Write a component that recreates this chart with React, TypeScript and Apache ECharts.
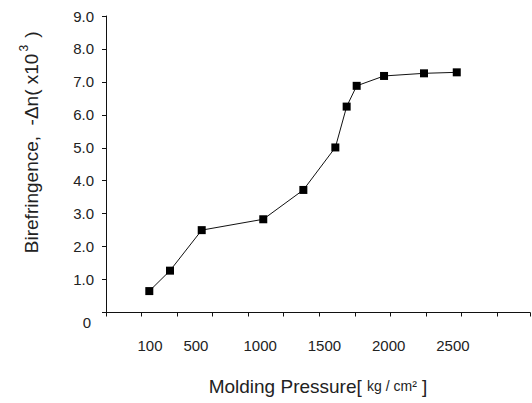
import React, { useEffect, useRef } from 'react';
import * as echarts from 'echarts';

// Molding pressure [kg/cm²] (as plotted) and birefringence -Δn (x10^3)
const pressure = [137, 298, 545, 1024, 1336, 1585, 1673, 1751, 1964, 2275, 2530];
const birefringence = [0.65, 1.27, 2.5, 2.83, 3.72, 5.01, 6.25, 6.88, 7.18, 7.26, 7.29];
const xTickLabels = [100, 500, 1000, 1500, 2000, 2500];
const yTickLabels = ['0', '1.0', '2.0', '3.0', '4.0', '5.0', '6.0', '7.0', '8.0', '9.0'];

const FONT = '"Liberation Sans", Arial, Helvetica, sans-serif';
const TEXT = '#222';

export default function App() {
  const ref = useRef<HTMLDivElement>(null);
  useEffect(() => {
    if (!ref.current) return;
    const chart = echarts.init(ref.current, null, { renderer: 'svg' });
    chart.setOption({
      animation: false,
      backgroundColor: '#fff',
      grid: { left: 106, right: 2, top: 16, bottom: 90.5, containLabel: false },
      xAxis: [
        {
          type: 'value',
          min: -200,
          max: 3100,
          interval: 50,
          position: 'bottom',
          axisLine: { show: false, onZero: false },
          axisTick: { show: false },
          splitLine: { show: false },
          axisLabel: {
            margin: 25,
            fontSize: 15,
            fontFamily: FONT,
            color: TEXT,
            showMinLabel: false,
            showMaxLabel: false,
            formatter: (v: number) => {
              if (!xTickLabels.includes(v)) return '';
              if (v === 100) return '{s|100}';
              return String(v);
            },
            rich: {
              s: { fontSize: 15, fontFamily: FONT, color: TEXT, padding: [0, 0, 0, 11] },
            },
          },
          name: '{a|Molding Pressure[ }{b|kg / cm²}{a| ]}',
          nameLocation: 'middle',
          nameGap: 64,
          nameTextStyle: {
            rich: {
              a: { fontSize: 19, fontFamily: FONT, color: TEXT },
              b: { fontSize: 14, fontFamily: FONT, color: TEXT },
            },
          },
        },
        {
          type: 'value',
          min: 0,
          max: 11.93,
          interval: 1,
          position: 'bottom',
          axisLine: { show: true, onZero: false, lineStyle: { color: '#111', width: 1 } },
          axisTick: { show: true, length: 4, lineStyle: { color: '#111', width: 1 } },
          axisLabel: { show: false },
          splitLine: { show: false },
        },
      ],
      yAxis: {
        type: 'value',
        min: 0,
        max: 9,
        interval: 1,
        axisLine: { show: true, onZero: false, lineStyle: { color: '#111', width: 1 } },
        axisTick: { show: true, length: 4, lineStyle: { color: '#111', width: 1 } },
        splitLine: { show: false },
        axisLabel: {
          margin: 12,
          fontSize: 15,
          fontFamily: FONT,
          color: TEXT,
          formatter: (v: number) => {
            const t = yTickLabels[Math.round(v)] ?? '';
            return v === 0 ? '{z|' + t + '}' : t;
          },
          rich: {
            z: { fontSize: 15, fontFamily: FONT, color: TEXT, padding: [19, 3, 0, 0] },
          },
        },
        name: '{a|Birefringence,  -Δn( x10}{s|3}{a| )}',
        nameLocation: 'middle',
        nameGap: 62,
        nameTextStyle: {
          padding: [0, 0, 0, 44],
          rich: {
            a: { fontSize: 19, fontFamily: FONT, color: TEXT },
            s: { fontSize: 12, fontFamily: FONT, color: TEXT, padding: [0, 2, 14, 2] },
          },
        },
      },
      series: [
        {
          type: 'line',
          xAxisIndex: 0,
          yAxisIndex: 0,
          data: pressure.map((p, i) => [p, birefringence[i]]),
          symbol: 'rect',
          symbolSize: 8,
          showSymbol: true,
          lineStyle: { color: '#111', width: 1 },
          itemStyle: { color: '#000' },
        },
      ],
    });
    return () => chart.dispose();
  }, []);
  return (
    <div
      ref={ref}
      style={{ position: 'absolute', left: 0, top: 0, width: 532, height: 403, background: '#fff' }}
    />
  );
}
